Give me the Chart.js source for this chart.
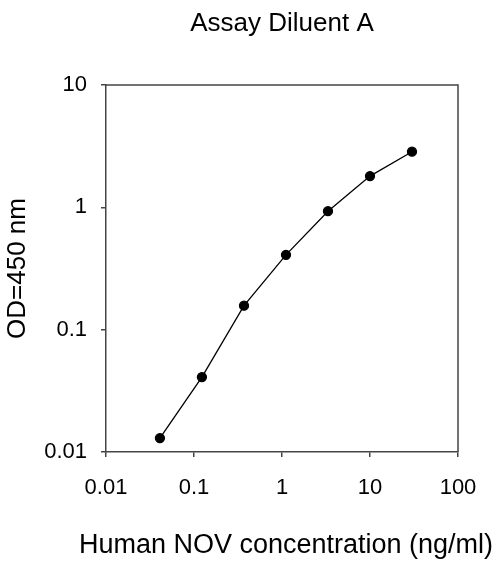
<!DOCTYPE html>
<html>
<head>
<meta charset="utf-8">
<script src="https://cdn.jsdelivr.net/npm/chart.js@4"></script>
<style>
  html, body { margin: 0; padding: 0; background: #fff; }
  canvas { display: block; }
</style>
</head>
<body>
<canvas id="c" width="500" height="571"></canvas>
<script>
const concentration = [0.041, 0.123, 0.37, 1.11, 3.33, 10, 30];
const od450 = [0.013, 0.041, 0.157, 0.409, 0.93, 1.80, 2.85];
const xTickValues = [0.01, 0.1, 1, 10, 100];
const yTickValues = [0.01, 0.1, 1, 10];
const chartTitle = 'Assay Diluent A';
const xTitle = 'Human NOV concentration (ng/ml)';
const yTitle = 'OD=450 nm';

const FONT = '"Liberation Sans", Arial, Helvetica, sans-serif';
const AXIS = '#444';

const framePlugin = {
  id: 'frame',
  afterDatasetsDraw(chart) {
    const a = chart.chartArea, ctx = chart.ctx;
    ctx.save();
    ctx.strokeStyle = AXIS;
    ctx.lineWidth = 1.5;
    ctx.beginPath();
    ctx.moveTo(a.left, a.top);
    ctx.lineTo(a.right, a.top);
    ctx.lineTo(a.right, a.bottom);
    ctx.stroke();
    ctx.restore();
  }
};

// x-axis title drawn without the scale's maxWidth squeeze (it is wider than the plot in the reference)
const xTitlePlugin = {
  id: 'xTitle',
  afterDraw(chart) {
    const a = chart.chartArea, ctx = chart.ctx;
    ctx.save();
    ctx.fillStyle = '#000';
    ctx.font = '27px ' + FONT;
    ctx.textAlign = 'center';
    ctx.textBaseline = 'alphabetic';
    ctx.fillText(xTitle, (a.left + a.right) / 2 + 4, a.bottom + 101);
    ctx.restore();
  }
};

new Chart(document.getElementById('c'), {
  type: 'scatter',
  data: {
    datasets: [{
      data: concentration.map((x, i) => ({ x: x, y: od450[i] })),
      showLine: true,
      borderColor: '#000',
      borderWidth: 1.3,
      backgroundColor: '#000',
      pointBackgroundColor: '#000',
      pointBorderColor: '#000',
      pointRadius: 4.5,
      tension: 0
    }]
  },
  options: {
    responsive: false,
    animation: false,
    devicePixelRatio: 1,
    layout: { padding: { left: 0, right: 42, top: 0, bottom: 0 } },
    plugins: {
      legend: { display: false },
      tooltip: { enabled: false },
      title: {
        display: true,
        fullSize: false,
        text: chartTitle,
        color: '#000',
        font: { family: FONT, size: 26, weight: 'normal' },
        padding: { top: 8, bottom: 45.8 }
      }
    },
    scales: {
      x: {
        type: 'logarithmic',
        min: 0.01,
        max: 100,
        afterBuildTicks: s => { s.ticks = xTickValues.map(v => ({ value: v })); },
        afterFit: s => { s.height = 119; },
        ticks: {
          color: '#000',
          font: { family: FONT, size: 22 },
          padding: 18,
          maxRotation: 0,
          autoSkip: false,
          callback: v => String(v)
        },
        grid: { drawOnChartArea: false, drawTicks: true, tickLength: 5, color: AXIS, lineWidth: 1.5 },
        border: { display: true, color: AXIS, width: 1.5 },
        title: { display: false, text: xTitle }
      },
      y: {
        type: 'logarithmic',
        min: 0.01,
        max: 10,
        afterBuildTicks: s => { s.ticks = yTickValues.map(v => ({ value: v })); },
        afterFit: s => { s.width = 106; },
        ticks: {
          color: '#000',
          font: { family: FONT, size: 22 },
          padding: 14,
          autoSkip: false,
          callback: v => String(v)
        },
        grid: { drawOnChartArea: false, drawTicks: true, tickLength: 5, color: AXIS, lineWidth: 1.5 },
        border: { display: true, color: AXIS, width: 1.5 },
        title: {
          display: true,
          text: yTitle,
          color: '#000',
          font: { family: FONT, size: 26 },
          padding: { top: 2, bottom: 0 }
        }
      }
    }
  },
  plugins: [framePlugin, xTitlePlugin]
});
</script>
</body>
</html>
